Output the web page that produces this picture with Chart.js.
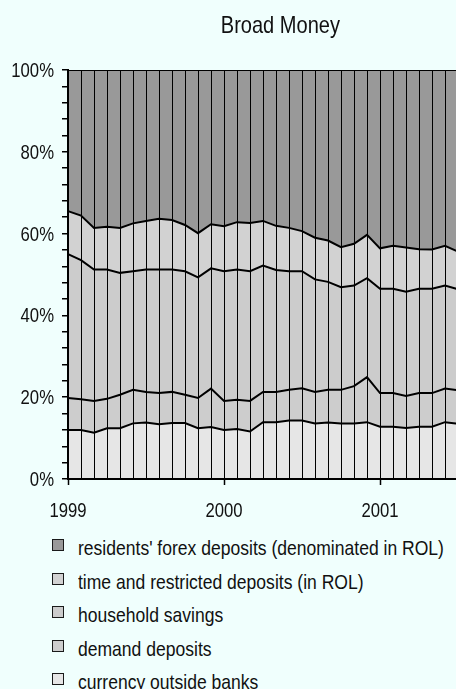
<!DOCTYPE html>
<html>
<head>
<meta charset="utf-8">
<title>Broad Money</title>
<script src="https://cdn.jsdelivr.net/npm/chart.js@4/dist/chart.umd.min.js"></script>
<style>
  html, body { margin: 0; padding: 0; background: #f0fffd; }
  #wrap { position: relative; width: 456px; height: 689px; overflow: hidden; background: #f0fffd; }
  #c { position: absolute; left: 0; top: 0; }
  .txt { font-family: "Liberation Sans", Arial, sans-serif; color: #111; }
  .narrow { display: inline-block; transform: scaleX(0.835); white-space: nowrap; }
  #title { position: absolute; top: 13px; left: 180px; width: 200px; text-align: center; font-size: 24px; line-height: 24px; }
  #title .narrow { transform-origin: 50% 0; }
  .row { position: absolute; left: 52px; height: 21px; line-height: 21px; font-size: 21px; white-space: nowrap; }
  .box { position: absolute; left: 0; top: 2px; width: 10px; height: 10px; border: 1px solid #1a1a1a; }
  .lbl { position: absolute; left: 26px; top: 0; transform-origin: 0 0; }
</style>
</head>
<body>
<div id="wrap">
  <canvas id="c" width="462" height="530"></canvas>
  <div id="title" class="txt"><span class="narrow">Broad Money</span></div>
  <div id="legend" class="txt"></div>
</div>
<script>
// Monthly categories, January 1999 to July 2001
const months = [
  'Jan 1999','Feb 1999','Mar 1999','Apr 1999','May 1999','Jun 1999',
  'Jul 1999','Aug 1999','Sep 1999','Oct 1999','Nov 1999','Dec 1999',
  'Jan 2000','Feb 2000','Mar 2000','Apr 2000','May 2000','Jun 2000',
  'Jul 2000','Aug 2000','Sep 2000','Oct 2000','Nov 2000','Dec 2000',
  'Jan 2001','Feb 2001','Mar 2001','Apr 2001','May 2001','Jun 2001',
  'Jul 2001'
];
const yearLabels = ['1999', '2000', '2001'];
const yearIndex = [0, 12, 24];
const yTickValues = [0, 20, 40, 60, 80, 100];
const yTickLabels = ['0%', '20%', '40%', '60%', '80%', '100%'];

// Shares of broad money, % of total (stacked bottom to top)
const currency  = [12.0,12.0,11.3,12.4,12.4,13.6,13.8,13.4,13.7,13.7,12.4,12.7,12.0,12.2,11.6,13.9,13.9,14.3,14.3,13.6,13.8,13.6,13.6,13.9,12.8,12.8,12.5,12.8,12.8,13.9,13.5];
const demand    = [7.8,7.5,7.8,7.2,8.2,8.2,7.5,7.6,7.6,6.9,7.4,9.4,7.1,7.2,7.5,7.4,7.4,7.5,7.9,7.7,8.0,8.2,9.1,11.0,8.2,8.2,7.8,8.2,8.2,8.2,8.2];
const household = [35.2,34.0,32.1,31.6,29.8,29.0,29.9,30.2,29.9,30.2,29.5,29.4,31.7,31.8,31.7,30.9,29.8,29.0,28.6,27.5,26.4,25.1,24.6,24.2,25.5,25.5,25.5,25.5,25.5,25.2,24.7];
const timeDep   = [10.5,10.9,10.2,10.5,11.0,11.7,11.9,12.4,12.1,11.3,10.8,10.8,11.0,11.6,11.8,10.9,10.8,10.6,9.8,10.2,10.1,9.8,10.2,10.6,9.9,10.5,10.8,9.7,9.6,9.7,9.2];
const forex     = [34.5,35.6,38.6,38.3,38.6,37.5,36.9,36.4,36.7,37.9,39.9,37.7,38.2,37.2,37.4,36.9,38.1,38.6,39.4,41.0,41.7,43.3,42.5,40.3,43.6,43.0,43.4,43.8,43.9,43.0,44.4];

const seriesNames = [
  'currency outside banks',
  'demand deposits',
  'household savings',
  'time and restricted deposits (in ROL)',
  "residents' forex deposits (denominated in ROL)"
];
const seriesColors = ['#e6e6e6', '#cdcdcd', '#cccccc', '#d2d2d2', '#999999'];
const seriesData = [currency, demand, household, timeDep, forex];

const datasets = seriesData.map((d, i) => ({
  label: seriesNames[i],
  data: d,
  backgroundColor: seriesColors[i],
  borderColor: '#000',
  borderWidth: 2,
  fill: i === 0 ? 'origin' : '-1',
  pointRadius: 0,
  tension: 0
}));

// Axis labels drawn in a horizontally condensed sans face
const NARROW = 0.835;
const condensedLabels = {
  id: 'condensedLabels',
  afterDraw(chart) {
    const { ctx, chartArea } = chart;
    const x = chart.scales.x, y = chart.scales.y;
    ctx.save();
    ctx.fillStyle = '#111';
    ctx.font = '20px "Liberation Sans", Arial, sans-serif';
    ctx.textBaseline = 'alphabetic';
    ctx.textAlign = 'right';
    yTickValues.forEach((v, i) => {
      ctx.save();
      ctx.translate(chartArea.left - 14, y.getPixelForValue(v) + 7);
      ctx.scale(NARROW, 1);
      ctx.fillText(yTickLabels[i], 0, 0);
      ctx.restore();
    });
    ctx.textAlign = 'center';
    yearIndex.forEach((k, i) => {
      ctx.save();
      ctx.translate(x.getPixelForValue(k), chartArea.bottom + 38);
      ctx.scale(NARROW, 1);
      ctx.fillText(yearLabels[i], 0, 0);
      ctx.restore();
    });
    ctx.restore();
  }
};

new Chart(document.getElementById('c'), {
  type: 'line',
  data: { labels: months, datasets },
  plugins: [condensedLabels],
  options: {
    responsive: false,
    animation: false,
    devicePixelRatio: 1,
    layout: { padding: { top: 70, right: 4, left: 0, bottom: 0 } },
    plugins: {
      legend: { display: false },
      tooltip: { enabled: false },
      title: { display: false }
    },
    scales: {
      x: {
        type: 'category',
        offset: false,
        grid: {
          z: 1,
          color: '#000',
          lineWidth: 1,
          tickLength: 6,
          tickWidth: 1.5,
          tickColor: c => (yearIndex.includes(c.index) ? '#000' : 'rgba(0,0,0,0)')
        },
        border: { color: '#000', width: 2, z: 2 },
        ticks: { display: false, autoSkip: false, maxRotation: 0 },
        afterFit: s => { s.height = 51; }
      },
      y: {
        stacked: true,
        min: 0,
        max: 100,
        grid: { z: 1, drawOnChartArea: false, tickLength: 6, color: '#000', lineWidth: 1.5 },
        border: { color: '#000', width: 2, z: 2 },
        ticks: { display: false, stepSize: 4, autoSkip: false, maxTicksLimit: 40 },
        afterFit: s => { s.width = 68; }
      }
    }
  }
});

// Legend, listed from the top series down
const legend = document.getElementById('legend');
const rowTops = [537, 571, 604, 638, 671];
for (let j = 0; j < seriesNames.length; j++) {
  const i = seriesNames.length - 1 - j;
  const row = document.createElement('div');
  row.className = 'row';
  row.style.top = rowTops[j] + 'px';
  const box = document.createElement('div');
  box.className = 'box';
  box.style.background = seriesColors[i];
  const lbl = document.createElement('span');
  lbl.className = 'lbl narrow';
  lbl.textContent = seriesNames[i];
  row.appendChild(box);
  row.appendChild(lbl);
  legend.appendChild(row);
}
</script>
</body>
</html>
